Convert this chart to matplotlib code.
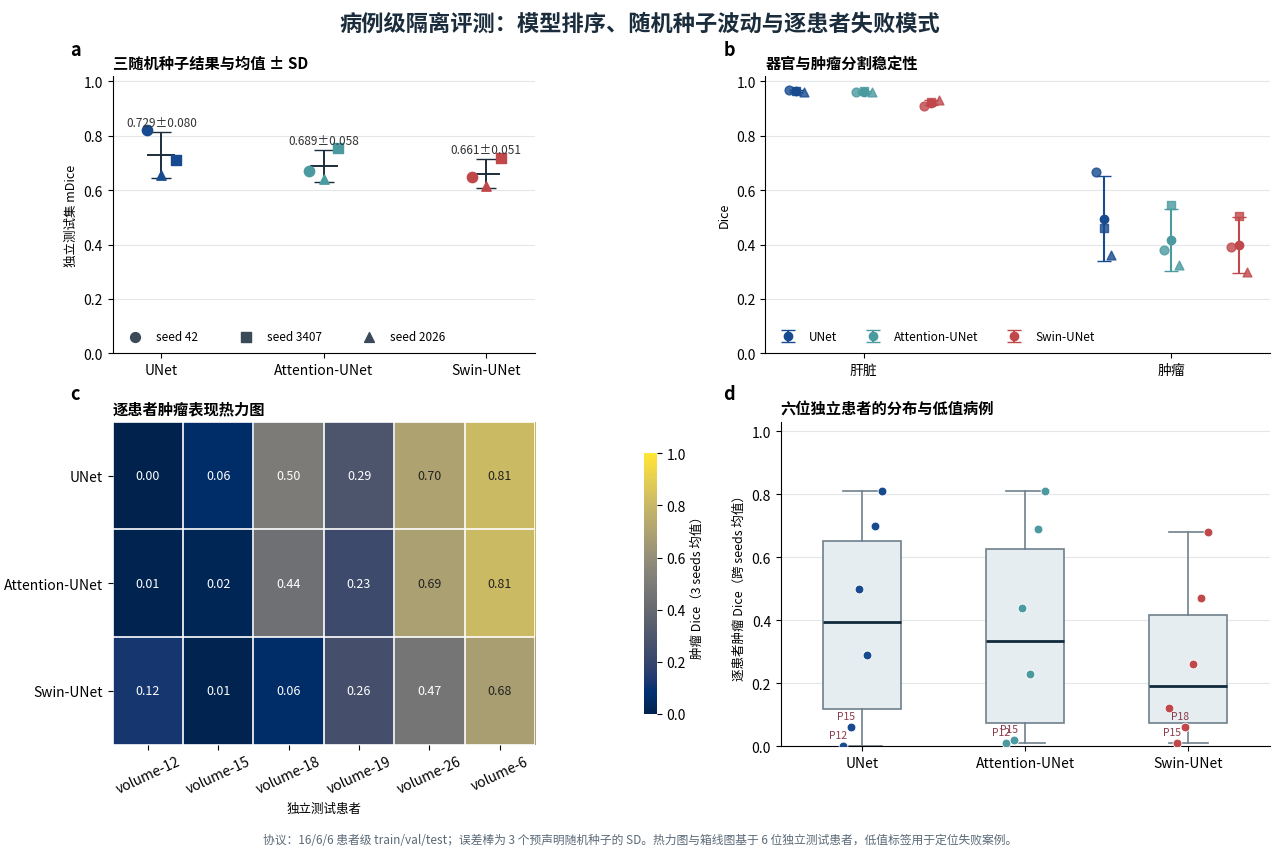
import numpy as np
import matplotlib
matplotlib.use("Agg")
import matplotlib.pyplot as plt

plt.rcParams['font.family'] = ['Noto Sans CJK SC', 'DejaVu Sans']
plt.rcParams['axes.unicode_minus'] = False

models = ["UNet", "Attention-UNet", "Swin-UNet"]
colors = ["#174a8f", "#4a9aa0", "#c0474a"]
seeds = ["seed 42", "seed 3407", "seed 2026"]
seed_markers = ["o", "s", "^"]

# a: mDice per seed
mdice = [[0.820, 0.710, 0.655],
         [0.670, 0.755, 0.640],
         [0.650, 0.718, 0.615]]
mdice_lbl = ["0.729±0.080", "0.689±0.058", "0.661±0.051"]

# b: organ / tumor dice per seed
organs = ["肝脏", "肿瘤"]
liver = [[0.967, 0.965, 0.960],
         [0.960, 0.965, 0.960],
         [0.910, 0.925, 0.930]]
tumor = [[0.665, 0.460, 0.360],
         [0.380, 0.545, 0.325],
         [0.390, 0.505, 0.300]]

# c/d: per-patient tumor dice (mean of seeds)
patients = ["volume-12", "volume-15", "volume-18", "volume-19", "volume-26", "volume-6"]
pids = ["P12", "P15", "P18", "P19", "P26", "P6"]
heat = np.array([[0.00, 0.06, 0.50, 0.29, 0.70, 0.81],
                 [0.01, 0.02, 0.44, 0.23, 0.69, 0.81],
                 [0.12, 0.01, 0.06, 0.26, 0.47, 0.68]])

fig = plt.figure(figsize=(12.8, 8.54), dpi=100)
fig.suptitle("病例级隔离评测：模型排序、随机种子波动与逐患者失败模式",
             fontsize=16, fontweight='bold', color="#1b2d3c", y=0.985)

ax_a = fig.add_axes([0.088, 0.585, 0.33, 0.325])
ax_b = fig.add_axes([0.598, 0.585, 0.394, 0.325])
ax_c = fig.add_axes([0.088, 0.127, 0.33, 0.378])
cax = fig.add_axes([0.503, 0.163, 0.01, 0.305])
ax_d = fig.add_axes([0.61, 0.125, 0.382, 0.38])

def style(ax):
    ax.spines['top'].set_visible(False)
    ax.spines['right'].set_visible(False)
    ax.grid(axis='y', color="#e3e7ea", lw=0.8)
    ax.set_axisbelow(True)

# panel a
style(ax_a)
seed_offs = [-0.09, 0.09, 0.0]
for i, m in enumerate(models):
    vals = mdice[i]
    for j, v in enumerate(vals):
        ax_a.scatter(i + seed_offs[j], v, marker=seed_markers[j],
                     color=colors[i], s=55 if j < 2 else 45, zorder=3)
    mu, sd = np.mean(vals), np.std(vals, ddof=1)
    ax_a.errorbar(i, mu, yerr=sd, fmt='none', ecolor="#1b2d3c", capsize=7, lw=1.4, zorder=2)
    ax_a.plot([i - 0.08, i + 0.08], [mu, mu], color="#1b2d3c", lw=1.4, zorder=2)
    ax_a.text(i, mu + sd + 0.012, mdice_lbl[i], ha='center', va='bottom', fontsize=8.5, color="#333")
for j, s in enumerate(seeds):
    ax_a.scatter([], [], marker=seed_markers[j], color="#3a4a58", s=50, label=s)
ax_a.legend(loc='lower left', ncol=3, frameon=False, fontsize=8.5, columnspacing=3)
ax_a.set_xticks(range(3))
ax_a.set_xticklabels(models)
ax_a.set_xlim(-0.3, 2.3)
ax_a.set_ylim(0, 1.02)
ax_a.set_ylabel("独立测试集 mDice", fontsize=9)
ax_a.set_title("三随机种子结果与均值 ± SD", loc='left', fontsize=11, fontweight='bold')

# panel b
style(ax_b)
for k, data in enumerate([liver, tumor]):
    for i, m in enumerate(models):
        xc = k + (i - 1) * 0.22
        vals = data[i]
        for j, v in enumerate(vals):
            ax_b.scatter(xc + (j - 1) * 0.025, v, marker=seed_markers[j], color=colors[i],
                         s=40, alpha=0.8, zorder=3)
        mu, sd = np.mean(vals), np.std(vals, ddof=1)
        ax_b.errorbar(xc, mu, yerr=sd, fmt='o', color=colors[i], ms=6, capsize=5, lw=1.5,
                      zorder=4, label=m if k == 0 else None)
ax_b.legend(loc='lower left', ncol=3, frameon=False, fontsize=8.5, columnspacing=2)
ax_b.set_xticks([0, 1])
ax_b.set_xticklabels(organs)
ax_b.set_xlim(-0.32, 1.32)
ax_b.set_ylim(0, 1.02)
ax_b.set_ylabel("Dice", fontsize=9)
ax_b.set_title("器官与肿瘤分割稳定性", loc='left', fontsize=11, fontweight='bold')

# panel c
im = ax_c.imshow(heat, cmap='cividis', vmin=0, vmax=1, aspect='auto')
for r in range(heat.shape[0]):
    for c in range(heat.shape[1]):
        v = heat[r, c]
        ax_c.text(c, r, f"{v:.2f}", ha='center', va='center', fontsize=9,
                  color="white" if v < 0.6 else "#222")
ax_c.set_xticks(np.arange(len(patients)))
ax_c.set_xticklabels(patients, rotation=25)
ax_c.set_yticks(np.arange(3))
ax_c.set_yticklabels(models)
ax_c.set_xticks(np.arange(-0.5, 6), minor=True)
ax_c.set_yticks(np.arange(-0.5, 3), minor=True)
ax_c.grid(which='minor', color='white', lw=1.2)
ax_c.tick_params(which='minor', length=0)
for s in ax_c.spines.values():
    s.set_visible(False)
ax_c.set_xlabel("独立测试患者", fontsize=9)
ax_c.set_title("逐患者肿瘤表现热力图", loc='left', fontsize=11, fontweight='bold')
cb = fig.colorbar(im, cax=cax)
cb.set_label("肿瘤 Dice（3 seeds 均值）", fontsize=9)
cb.outline.set_visible(False)

# panel d
style(ax_d)
ax_d.boxplot([heat[i] for i in range(3)], positions=range(3), widths=0.48, patch_artist=True,
             showfliers=False,
             boxprops=dict(facecolor="#e6edf0", edgecolor="#6f808c", lw=1.2),
             whiskerprops=dict(color="#6f808c", lw=1.2),
             capprops=dict(color="#6f808c", lw=1.2),
             medianprops=dict(color="#102a3c", lw=2))
offs = [-0.12, -0.07, -0.02, 0.03, 0.08, 0.12]
for i in range(3):
    xs = [i + offs[k] for k in range(6)]
    ax_d.scatter(xs, heat[i], color=colors[i], s=40, edgecolor='white', lw=0.6, zorder=3)
    for k in np.argsort(heat[i])[:2]:
        ax_d.annotate(pids[k], (xs[k], heat[i][k]), xytext=(-10, 6), textcoords='offset points',
                      fontsize=7.5, color="#8a3a4a")
ax_d.set_xticks(range(3))
ax_d.set_xticklabels(models)
ax_d.set_xlim(-0.5, 2.5)
ax_d.set_ylim(0, 1.03)
ax_d.set_ylabel("逐患者肿瘤 Dice（跨 seeds 均值）", fontsize=9)
ax_d.set_title("六位独立患者的分布与低值病例", loc='left', fontsize=11, fontweight='bold')

for ax, lab, x, y in [(ax_a, "a", 0.055, 0.935), (ax_b, "b", 0.565, 0.935),
                      (ax_c, "c", 0.055, 0.532), (ax_d, "d", 0.565, 0.532)]:
    fig.text(x, y, lab, fontsize=13, fontweight='bold')

fig.text(0.5, 0.012, "协议：16/6/6 患者级 train/val/test；误差棒为 3 个预声明随机种子的 SD。热力图与箱线图基于 6 位独立测试患者，低值标签用于定位失败案例。",
         ha='center', fontsize=8.5, color="#5a6a78")

fig.savefig("out.png", dpi=100)
